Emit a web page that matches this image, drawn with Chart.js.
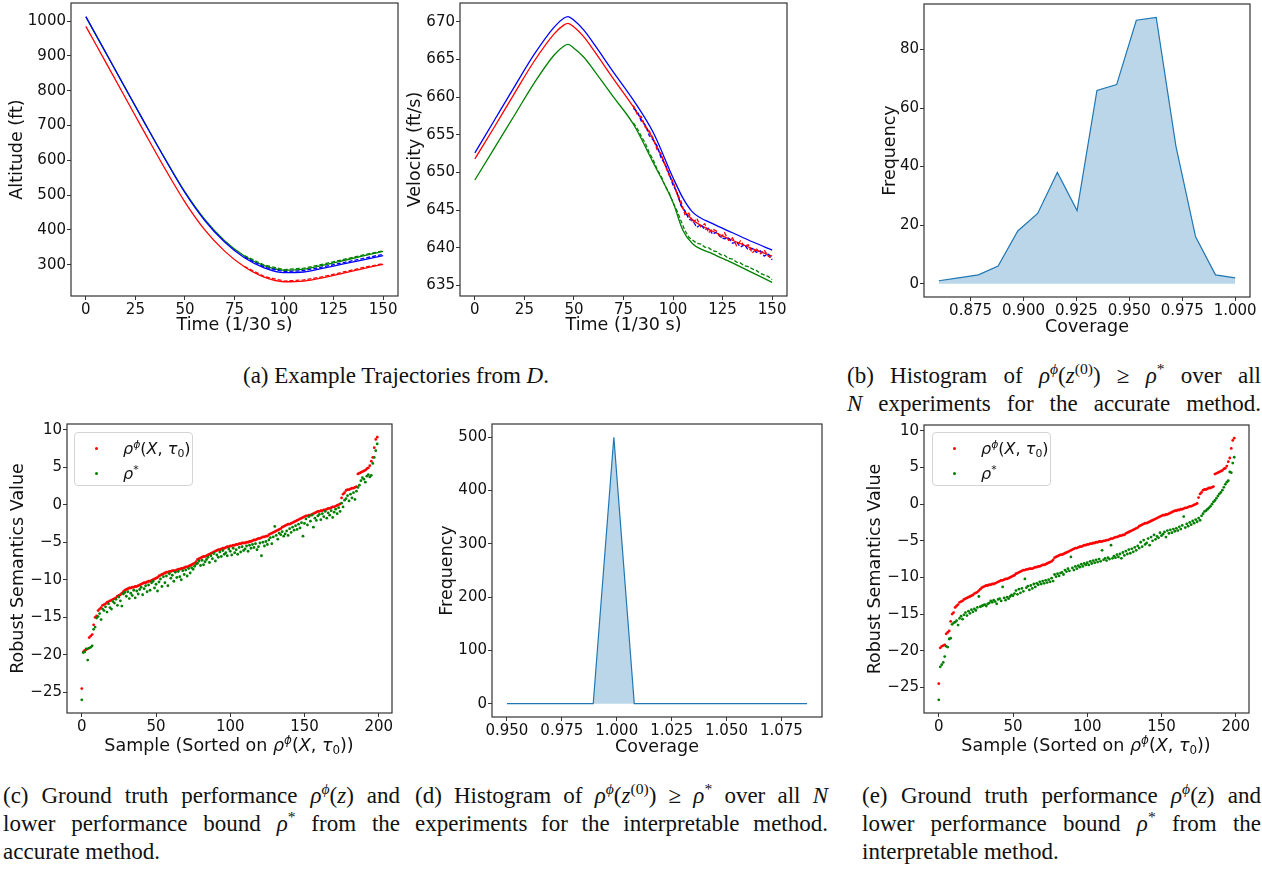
<!DOCTYPE html>
<html lang="en">
<head>
<meta charset="utf-8">
<title>Figura</title>
<script src="https://cdn.jsdelivr.net/npm/chart.js@4.4.0/dist/chart.umd.min.js"></script>
<style>
  html, body { margin: 0; padding: 0; background: #fff; }
  #hoja { position: relative; width: 1262px; height: 869px; overflow: hidden; }
  canvas { position: absolute; }
  .cap { position: absolute; font-family: 'Liberation Serif', 'DejaVu Serif', serif; font-size: 23px; color: #111; }
  .cap .l { height: 28px; line-height: 28px; text-align: justify; text-align-last: justify; }
  .cap .u { height: 28px; line-height: 28px; text-align: left; }
  sup, sub { font-size: 68%; line-height: 0; }
  sup { vertical-align: 0.55em; }
  sub { vertical-align: -0.25em; }
  .leyenda { position: absolute; width: 119px; height: 54px; box-sizing: border-box; border: 1px solid #d4d4d4; border-radius: 4px; background: rgba(255,255,255,0.85); font-family: 'DejaVu Sans', sans-serif; font-size: 16px; color: #111; }
  .leyenda .punto { position: absolute; width: 3px; height: 3px; border-radius: 50%; }
  .leyenda .txt { position: absolute; left: 48px; line-height: 20px; height: 20px; white-space: nowrap; }
  .titx { position: absolute; font-family: 'DejaVu Sans', sans-serif; font-size: 17.5px; color: #111; white-space: nowrap; transform: translate(-50%, -50%); }
</style>
</head>
<body>
<div id="hoja">
  <canvas id="altitud"></canvas>
  <canvas id="velocidad"></canvas>
  <canvas id="histPreciso"></canvas>
  <canvas id="rhoPreciso"></canvas>
  <canvas id="histInterp"></canvas>
  <canvas id="rhoInterp"></canvas>

  <div class="leyenda" style="left:74px;top:432px">
    <span class="punto" style="left:20px;top:14px;background:#ff0000"></span>
    <span class="txt" style="top:6px"><i>ρ</i><sup><i>ϕ</i></sup>(<i>X</i>, <i>τ</i><sub>0</sub>)</span>
    <span class="punto" style="left:20px;top:39px;background:#008000"></span>
    <span class="txt" style="top:31px"><i>ρ</i><sup>*</sup></span>
  </div>
  <div class="leyenda" style="left:932px;top:432px">
    <span class="punto" style="left:20px;top:14px;background:#ff0000"></span>
    <span class="txt" style="top:6px"><i>ρ</i><sup><i>ϕ</i></sup>(<i>X</i>, <i>τ</i><sub>0</sub>)</span>
    <span class="punto" style="left:20px;top:39px;background:#008000"></span>
    <span class="txt" style="top:31px"><i>ρ</i><sup>*</sup></span>
  </div>

  <div class="titx" style="left:229px;top:745px">Sample (Sorted on <i>ρ</i><sup><i>ϕ</i></sup>(<i>X</i>, <i>τ</i><sub>0</sub>))</div>
  <div class="titx" style="left:1086px;top:745px">Sample (Sorted on <i>ρ</i><sup><i>ϕ</i></sup>(<i>X</i>, <i>τ</i><sub>0</sub>))</div>

  <div class="cap" style="left:243px;top:362px;width:340px">
    <div class="u">(a) Example Trajectories from <i>D</i>.</div>
  </div>
  <div class="cap" style="left:847px;top:362px;width:414px">
    <div class="l">(b) Histogram of <i>ρ</i><sup><i>ϕ</i></sup>(<i>z</i><sup>(0)</sup>) ≥ <i>ρ</i><sup>*</sup> over all</div>
    <div class="l"><i>N</i> experiments for the accurate method.</div>
  </div>
  <div class="cap" style="left:3px;top:782px;width:397px">
    <div class="l">(c) Ground truth performance <i>ρ</i><sup><i>ϕ</i></sup>(<i>z</i>) and</div>
    <div class="l">lower performance bound <i>ρ</i><sup>*</sup> from the</div>
    <div class="u">accurate method.</div>
  </div>
  <div class="cap" style="left:415px;top:782px;width:413px">
    <div class="l">(d) Histogram of <i>ρ</i><sup><i>ϕ</i></sup>(<i>z</i><sup>(0)</sup>) ≥ <i>ρ</i><sup>*</sup> over all <i>N</i></div>
    <div class="l">experiments for the interpretable method.</div>
  </div>
  <div class="cap" style="left:862px;top:782px;width:399px">
    <div class="l">(e) Ground truth performance <i>ρ</i><sup><i>ϕ</i></sup>(<i>z</i>) and</div>
    <div class="l">lower performance bound <i>ρ</i><sup>*</sup> from the</div>
    <div class="u">interpretable method.</div>
  </div>
</div>

<script>
// ---- datos (a): altitud ----
const tiempos = [0, 10, 20, 30, 40, 50, 60, 70, 80, 90, 100, 110, 120, 130, 140, 150];
const altAzul = [1013, 910, 807, 704, 603, 507, 427, 365, 320, 291, 277, 279, 290, 302, 314, 326];
const altVerde = [1012, 909, 806, 704, 604, 509, 430, 369, 325, 297, 284, 287, 299, 312, 325, 338];
const altRojo = [985, 882, 779, 676, 575, 480, 400, 339, 294, 264, 251, 253, 263, 276, 289, 301];
const tiemposDisc = [80, 90, 100, 110, 120, 130, 140, 150];
const altRojoDisc = [295, 266, 253, 256, 266, 279, 292, 303];
const altAzulDisc = [322, 293, 280, 283, 294, 306, 318, 330];
const altVerdeDisc = [326, 299, 286, 290, 302, 315, 328, 340];

// ---- datos (a): velocidad ----
const tiemposVel = [0, 10, 20, 30, 40, 45, 47, 50, 55, 60, 70, 80, 90, 100, 105, 110, 120, 130, 140, 150];
const velAzul = [652.6, 657.0, 661.4, 665.7, 669.3, 670.5, 670.7, 670.2, 668.9, 667.1, 663.3, 659.6, 655.3, 649.3, 646.6, 644.7, 643.2, 642.0, 640.8, 639.7];
const velRojo = [651.8, 656.1, 660.5, 664.8, 668.4, 669.6, 669.8, 669.3, 668.0, 666.2, 662.4, 658.7, 654.4, 648.6, 645.2, 643.7, 642.2, 641.0, 639.9, 638.9];
const velVerde = [649.0, 653.3, 657.6, 661.9, 665.6, 666.8, 667.0, 666.5, 665.3, 663.6, 660.0, 656.4, 651.3, 646.0, 642.3, 640.5, 639.2, 638.0, 636.7, 635.4];
const tiemposRuido = [80, 82, 84, 86, 88, 90, 92, 94, 96, 98, 100, 102, 104, 106, 108, 110, 112, 114,
  116, 118, 120, 122, 124, 126, 128, 130, 132, 134, 136, 138, 140, 142, 144, 146, 148, 150];
const velRojoDisc = [658.9, 657.7, 657.4, 656.0, 655.5, 654.5, 653.0, 652.5, 651.0, 649.6, 648.8, 647.2, 646.2, 644.4, 644.6, 643.3, 643.9, 642.8,
  643.2, 642.0, 642.5, 642.2, 641.3, 642.0, 641.0, 641.3, 640.3, 640.9, 640.2, 640.4, 639.3, 639.9, 639.2, 639.7, 638.9, 638.5];
const velAzulDisc = [658.5, 658.1, 656.8, 656.3, 654.9, 654.3, 653.5, 651.9, 651.1, 649.8, 648.3, 647.4, 645.6, 644.9, 643.8, 643.6, 642.7, 643.1,
  642.4, 642.6, 641.8, 642.1, 641.4, 641.2, 641.3, 640.6, 640.8, 640.1, 640.4, 639.7, 639.9, 639.4, 639.6, 638.9, 639.2, 638.4];
const velVerdeDisc = [656.6, 655.8, 654.8, 653.9, 652.6, 651.7, 650.4, 649.5, 648.2, 647.3, 646.0, 644.9, 643.6, 642.3, 641.4, 641.0, 640.6, 640.5,
  640.1, 640.0, 639.6, 639.5, 639.1, 639.0, 638.6, 638.5, 638.1, 638.0, 637.6, 637.5, 637.2, 637.0, 636.6, 636.4, 636.2, 635.8];

// ---- datos (b) y (d): histogramas de cobertura ----
const coberturaB = [0.8600, 0.8693, 0.8787, 0.8880, 0.8973, 0.9067, 0.9160, 0.9253, 0.9347, 0.9440, 0.9533, 0.9627, 0.9720, 0.9813, 0.9907, 1.0000];
const frecuenciaB = [1, 2, 3, 6, 18, 24, 38, 25, 66, 68, 90, 91, 47, 16, 3, 2];
const coberturaD = [0.950, 0.9893, 0.9987, 1.0080, 1.0867];
const frecuenciaD = [0, 0, 500, 0, 0];

// ---- datos (c) y (e): semantica robusta por muestra ----
const rhoVerdad = [
  -24.5, -19.6, -19.4, -19.3, -19.2, -17.7, -17.5, -17.3, -16.0, -15.0,
  -14.8, -14.1, -13.9, -13.7, -13.4, -13.3, -13.2, -13.0, -12.9, -12.8,
  -12.7, -12.6, -12.5, -12.4, -12.2, -12.1, -12.0, -11.8, -11.6, -11.4,
  -11.3, -11.2, -11.1, -11.1, -11.0, -11.0, -10.9, -10.9, -10.8, -10.7,
  -10.6, -10.5, -10.4, -10.4, -10.3, -10.2, -10.2, -10.1, -10.0, -9.9,
  -9.8, -9.7, -9.5, -9.4, -9.3, -9.2, -9.1, -9.0, -9.0, -8.9,
  -8.9, -8.8, -8.8, -8.8, -8.7, -8.6, -8.6, -8.5, -8.5, -8.4,
  -8.3, -8.3, -8.2, -8.1, -8.0, -7.9, -7.8, -7.6, -7.3, -7.2,
  -7.1, -7.0, -6.9, -6.9, -6.8, -6.7, -6.6, -6.5, -6.4, -6.3,
  -6.2, -6.1, -6.0, -6.0, -5.9, -5.8, -5.8, -5.7, -5.6, -5.6,
  -5.5, -5.5, -5.4, -5.4, -5.3, -5.3, -5.2, -5.2, -5.1, -5.1,
  -5.1, -5.0, -5.0, -4.9, -4.9, -4.8, -4.7, -4.7, -4.6, -4.5,
  -4.5, -4.4, -4.3, -4.3, -4.2, -4.2, -4.0, -3.9, -3.8, -3.7,
  -3.6, -3.5, -3.4, -3.3, -3.2, -3.0, -2.9, -2.8, -2.7, -2.6,
  -2.6, -2.5, -2.4, -2.3, -2.2, -2.1, -2.0, -1.9, -1.8, -1.7,
  -1.6, -1.5, -1.5, -1.4, -1.4, -1.3, -1.2, -1.1, -1.0, -0.9,
  -0.9, -0.8, -0.8, -0.7, -0.7, -0.6, -0.5, -0.5, -0.4, -0.3,
  -0.3, -0.2, -0.1, 0.0, 0.1, 0.9, 1.4, 1.6, 1.9, 2.0,
  2.0, 2.1, 2.2, 2.2, 2.3, 2.4, 4.1, 4.2, 4.3, 4.4,
  4.5, 4.6, 4.8, 4.9, 5.2, 5.8, 6.3, 7.6, 8.7, 9.0
];
const rhoCotaPreciso = [
  -26.0, -19.7, -19.6, -19.2, -20.7, -19.1, -19.0, -18.8, -16.6, -16.3,
  -15.1, -14.9, -14.5, -15.3, -13.9, -14.1, -13.6, -14.3, -13.2, -13.7,
  -13.9, -12.9, -13.1, -12.6, -13.4, -12.3, -12.8, -13.5, -11.9, -11.7,
  -12.2, -11.6, -12.5, -11.8, -12.1, -11.4, -12.4, -11.5, -11.9, -11.3,
  -11.0, -12.0, -11.2, -10.8, -11.6, -10.7, -11.4, -10.4, -10.2, -11.1,
  -10.6, -11.5, -10.3, -9.9, -10.9, -9.6, -10.4, -9.5, -10.8, -9.2,
  -9.8, -9.4, -10.2, -9.0, -9.7, -8.9, -9.6, -10.0, -8.8, -9.3,
  -8.7, -9.5, -8.5, -9.1, -8.4, -8.6, -8.2, -7.9, -7.8, -7.5,
  -8.1, -7.4, -8.0, -7.6, -7.3, -7.0, -7.7, -6.8, -7.2, -6.5,
  -7.5, -6.7, -7.0, -6.3, -6.9, -6.1, -6.6, -6.4, -6.8, -5.9,
  -6.2, -6.7, -5.8, -6.4, -6.0, -6.6, -5.7, -6.3, -5.6, -6.1,
  -5.9, -5.5, -6.2, -5.4, -5.8, -5.3, -5.7, -5.2, -6.0, -5.6,
  -5.1, -6.8, -5.0, -5.5, -4.9, -5.3, -4.7, -4.4, -5.2, -4.3,
  -2.9, -4.1, -4.6, -3.8, -4.0, -3.6, -4.2, -3.9, -3.5, -4.1,
  -3.2, -3.7, -3.0, -3.4, -2.8, -3.3, -2.6, -3.1, -2.4, -4.2,
  -2.5, -1.9, -2.7, -1.6, -2.2, -1.4, -3.0, -1.8, -2.1, -1.5,
  -1.3, -2.0, -1.2, -1.6, -0.9, -1.8, -1.1, -1.4, -0.8, -1.7,
  -1.0, -0.6, -1.2, -0.4, -0.9, 0.2, -0.3, 0.6, 0.8, 1.2,
  0.5, 1.4, 0.9, 1.6, 0.7, 1.8, 2.3, 2.6, 3.2, 3.6,
  3.4, 3.0, 3.8, 4.0, 3.7, 3.9, 5.5, 6.3, 7.2, 8.1
];
const rhoCotaInterp = [
  -26.7, -22.2, -21.9, -21.6, -20.8, -19.4, -19.5, -18.4, -18.3, -16.4,
  -16.2, -16.1, -15.9, -16.5, -15.6, -15.3, -15.7, -15.1, -14.8, -15.2,
  -14.6, -14.9, -14.4, -14.7, -14.3, -14.5, -14.1, -12.6, -14.0, -13.9,
  -13.8, -13.7, -13.9, -13.6, -13.5, -13.2, -13.4, -13.1, -13.3, -13.6,
  -13.0, -12.9, -13.2, -11.3, -12.8, -13.1, -12.7, -12.9, -12.6, -12.4,
  -12.5, -12.2, -11.8, -12.3, -11.6, -12.1, -11.5, -11.9, -10.2, -11.4,
  -11.2, -11.7, -11.1, -11.5, -10.9, -11.3, -10.8, -11.0, -10.6, -10.9,
  -10.5, -10.8, -10.4, -10.7, -10.3, -10.6, -10.1, -10.5, -9.6, -9.9,
  -9.5, -9.8, -9.4, -9.3, -9.6, -9.0, -9.2, -8.8, -9.1, -7.2,
  -8.7, -9.0, -8.5, -8.8, -8.4, -8.6, -8.2, -8.5, -8.1, -8.3,
  -8.0, -8.3, -7.8, -8.1, -7.7, -8.0, -7.6, -7.9, -7.5, -7.8,
  -6.3, -7.6, -7.4, -7.7, -7.3, -7.5, -5.6, -7.4, -7.1, -7.3,
  -6.9, -7.2, -6.8, -7.4, -6.6, -7.0, -6.4, -6.8, -6.2, -6.7,
  -6.1, -6.5, -5.9, -6.3, -5.7, -6.0, -5.2, -5.8, -4.9, -5.5,
  -5.3, -4.7, -5.6, -4.5, -5.0, -4.2, -4.8, -4.4, -4.6, -3.9,
  -4.3, -4.1, -3.8, -4.5, -3.6, -4.0, -3.5, -3.9, -3.4, -3.7,
  -3.3, -3.6, -3.1, -3.4, -2.9, -1.7, -3.2, -2.7, -3.0, -2.5,
  -2.8, -2.3, -2.6, -2.1, -2.4, -1.9, -2.2, -1.6, -1.3, -1.0,
  -0.9, -0.7, -0.5, -0.3, 0.0, 0.3, 0.5, 0.8, 1.1, 1.4,
  1.6, 1.9, 2.3, 2.7, 3.0, 3.2, 4.4, 4.3, 5.6, 6.4
];
const muestras = rhoVerdad.map((_, i) => i);

// ---- marcas de los ejes ----
const marcasTiempo = [0, 25, 50, 75, 100, 125, 150];
const marcasAltitud = [300, 400, 500, 600, 700, 800, 900, 1000];
const marcasVelocidad = [635, 640, 645, 650, 655, 660, 665, 670];
const marcasCobB = [0.875, 0.900, 0.925, 0.950, 0.975, 1.000];
const marcasFrecB = [0, 20, 40, 60, 80];
const marcasCobD = [0.950, 0.975, 1.000, 1.025, 1.050, 1.075];
const marcasFrecD = [0, 100, 200, 300, 400, 500];
const marcasMuestra = [0, 50, 100, 150, 200];
const marcasRho = [-25, -20, -15, -10, -5, 0, 5, 10];

Chart.defaults.font.family = 'DejaVu Sans';
Chart.defaults.font.size = 15;
Chart.defaults.color = '#111';

const AZUL_MPL = '#1f77b4';

// marco completo alrededor del area (como los spines de matplotlib)
const marco = {
  id: 'marco',
  afterDraw(chart) {
    const a = chart.chartArea;
    const ctx = chart.ctx;
    ctx.save();
    ctx.strokeStyle = '#333';
    ctx.lineWidth = 1.2;
    ctx.strokeRect(a.left, a.top, a.right - a.left, a.bottom - a.top);
    ctx.restore();
  }
};

function pares(xs, ys) {
  return xs.map((x, i) => ({ x: x, y: ys[i] }));
}

const conMenos = v => (v < 0 ? '\u2212' + Math.abs(v) : String(v));
const tresDec = v => v.toFixed(3);

function eje(min, max, marcas, titulo, formato, ajuste) {
  return {
    type: 'linear',
    min: min,
    max: max,
    afterBuildTicks: s => { s.ticks = marcas.map(v => ({ value: v })); },
    afterFit: ajuste,
    grid: { drawOnChartArea: false, tickLength: 4, tickColor: '#333', lineWidth: 1 },
    border: { display: false },
    ticks: { padding: 1, maxRotation: 0, autoSkip: false, color: '#111', callback: formato || (v => String(v)) },
    title: { display: !!titulo, text: titulo, font: { size: 17.5 }, padding: 0, color: '#111' }
  };
}

// caja = bordes del area de dibujo en la pagina; tx/ty = centro de los titulos de eje
function grafico(id, caja, datasets, ex, ey) {
  const izq = Math.round(caja.tx - 10.5);
  const anchoY = caja.L - izq;
  const altoX = caja.ty ? Math.round(caja.ty - caja.B + 10.5) : 45;
  const ancho = caja.R - izq + 8;
  const alto = 4 + (caja.B - caja.T) + altoX;
  const lienzo = document.getElementById(id);
  lienzo.width = ancho;
  lienzo.height = alto;
  lienzo.style.left = izq + 'px';
  lienzo.style.top = (caja.T - 4) + 'px';
  lienzo.style.width = ancho + 'px';
  lienzo.style.height = alto + 'px';

  const x = eje(ex.min, ex.max, ex.marcas, ex.titulo, ex.formato, s => {
    s.height = altoX; s.paddingLeft = 0; s.paddingRight = 0;
  });
  const y = eje(ey.min, ey.max, ey.marcas, ey.titulo, ey.formato, s => {
    s.width = anchoY; s.paddingTop = 0; s.paddingBottom = 0;
  });

  return new Chart(lienzo.getContext('2d'), {
    type: 'line',
    data: { datasets: datasets },
    options: {
      responsive: false,
      maintainAspectRatio: false,
      devicePixelRatio: 1,
      animation: false,
      layout: { padding: { top: 4, right: 8, left: 0, bottom: 0 } },
      plugins: { legend: { display: false }, tooltip: { enabled: false } },
      scales: { x: x, y: y }
    },
    plugins: [marco]
  });
}

function linea(xs, ys, color, discontinua) {
  return {
    data: pares(xs, ys),
    borderColor: color,
    borderWidth: 1.3,
    borderDash: discontinua ? [4, 2] : [],
    pointRadius: 0,
    fill: false,
    tension: 0,
    cubicInterpolationMode: discontinua ? 'default' : 'monotone'
  };
}

function puntos(ys, color) {
  return {
    data: pares(muestras, ys),
    showLine: false,
    pointRadius: 1.4,
    pointBorderWidth: 0,
    pointBackgroundColor: color,
    borderColor: color
  };
}

function histograma(xs, ys) {
  return {
    data: pares(xs, ys),
    borderColor: AZUL_MPL,
    borderWidth: 1.2,
    backgroundColor: 'rgba(31, 119, 180, 0.3)',
    fill: 'origin',
    pointRadius: 0,
    tension: 0
  };
}

// (a) altitud
grafico('altitud', { L: 71, T: 3, R: 398, B: 296, tx: 17, ty: 325 }, [
  linea(tiemposDisc, altRojoDisc, '#ff0000', true),
  linea(tiemposDisc, altAzulDisc, '#0000ff', true),
  linea(tiemposDisc, altVerdeDisc, '#008000', true),
  linea(tiempos, altRojo, '#ff0000', false),
  linea(tiempos, altAzul, '#0000ff', false),
  linea(tiempos, altVerde, '#008000', false)
], { min: -7.5, max: 157.5, marcas: marcasTiempo, titulo: 'Time (1/30 s)' },
   { min: 210, max: 1052, marcas: marcasAltitud, titulo: 'Altitude (ft)' });

// (a) velocidad
grafico('velocidad', { L: 460, T: 3, R: 787, B: 296, tx: 415, ty: 325 }, [
  linea(tiemposRuido, velRojoDisc, '#ff0000', true),
  linea(tiemposRuido, velAzulDisc, '#0000ff', true),
  linea(tiemposRuido, velVerdeDisc, '#008000', true),
  linea(tiemposVel, velRojo, '#ff0000', false),
  linea(tiemposVel, velAzul, '#0000ff', false),
  linea(tiemposVel, velVerde, '#008000', false)
], { min: -7.5, max: 157.5, marcas: marcasTiempo, titulo: 'Time (1/30 s)' },
   { min: 633.6, max: 672.5, marcas: marcasVelocidad, titulo: 'Velocity (ft/s)' });

// (b) histograma, metodo preciso
grafico('histPreciso', { L: 924, T: 4, R: 1250, B: 297, tx: 890, ty: 327 }, [
  histograma(coberturaB, frecuenciaB)
], { min: 0.853, max: 1.007, marcas: marcasCobB, titulo: 'Coverage', formato: tresDec },
   { min: -4.55, max: 95.55, marcas: marcasFrecB, titulo: 'Frequency' });

// (c) semantica robusta, metodo preciso
grafico('rhoPreciso', { L: 67, T: 424, R: 392, B: 713, tx: 18, ty: null }, [
  puntos(rhoCotaPreciso, '#008000'),
  puntos(rhoVerdad, '#ff0000')
], { min: -9.95, max: 208.95, marcas: marcasMuestra, titulo: '' },
   { min: -27.75, max: 10.75, marcas: marcasRho, titulo: 'Robust Semantics Value', formato: conMenos });

// (d) histograma, metodo interpretable
grafico('histInterp', { L: 492, T: 424, R: 822, B: 717, tx: 447, ty: 747 }, [
  histograma(coberturaD, frecuenciaD)
], { min: 0.9432, max: 1.0935, marcas: marcasCobD, titulo: 'Coverage', formato: tresDec },
   { min: -25, max: 525, marcas: marcasFrecD, titulo: 'Frequency' });

// (e) semantica robusta, metodo interpretable
grafico('rhoInterp', { L: 924, T: 425, R: 1249, B: 713, tx: 875, ty: null }, [
  puntos(rhoCotaInterp, '#008000'),
  puntos(rhoVerdad, '#ff0000')
], { min: -9.95, max: 208.95, marcas: marcasMuestra, titulo: '' },
   { min: -28.5, max: 10.8, marcas: marcasRho, titulo: 'Robust Semantics Value', formato: conMenos });
</script>
</body>
</html>
